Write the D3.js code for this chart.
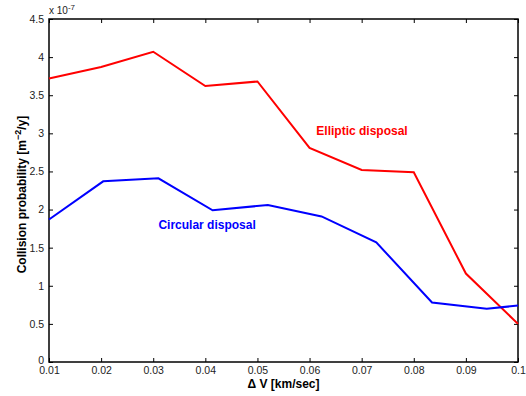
<!DOCTYPE html>
<html>
<head>
<meta charset="utf-8">
<script src="https://cdn.jsdelivr.net/npm/d3@7"></script>
<style>
  body { margin: 0; background: #fff; }
  text { font-family: "Liberation Sans", Arial, sans-serif; }
</style>
</head>
<body>
<script>
// data (y values in units of 1e-7)
const ellipticX = [0.01, 0.02, 0.03, 0.04, 0.05, 0.06, 0.07, 0.08, 0.09, 0.1];
const ellipticY = [3.72, 3.87, 4.07, 3.62, 3.68, 2.81, 2.52, 2.49, 1.16, 0.50];
const circularX = [0.01, 0.0204, 0.031, 0.0414, 0.052, 0.0623, 0.0728, 0.0835, 0.094, 0.1];
const circularY = [1.87, 2.37, 2.41, 1.99, 2.06, 1.91, 1.57, 0.78, 0.70, 0.74];
const xTicks = [0.01, 0.02, 0.03, 0.04, 0.05, 0.06, 0.07, 0.08, 0.09, 0.1];
const yTicks = [0, 0.5, 1, 1.5, 2, 2.5, 3, 3.5, 4, 4.5];

const width = 526;
const height = 396;
const plotLeft = 49, plotRight = 518, plotTop = 19, plotBottom = 362;

const svg = d3.select('body')
  .append('svg')
  .attr('width', width)
  .attr('height', height);

const xScale = d3.scaleLinear().domain([0.01, 0.1]).range([plotLeft, plotRight]);
const yScale = d3.scaleLinear().domain([0, 4.5]).range([plotBottom, plotTop]);

const fmtX = d => (d === 0.1 ? '0.1' : d3.format('.2f')(d));
const fmtY = d => String(d);

// axes (MATLAB style: ticks inward, box)
const xAxis = d3.axisBottom(xScale).tickValues(xTicks).tickSize(-4).tickPadding(5).tickFormat(fmtX);
const yAxis = d3.axisLeft(yScale).tickValues(yTicks).tickSize(-4).tickPadding(5).tickFormat(fmtY);
const xTop = d3.axisTop(xScale).tickValues(xTicks).tickSize(-4).tickFormat('');
const yRight = d3.axisRight(yScale).tickValues(yTicks).tickSize(-4).tickFormat('');

function styleAxis(g) {
  g.selectAll('path').remove();
  g.selectAll('line').attr('stroke', '#000');
  g.selectAll('text').attr('fill', '#222').attr('font-size', 10.5);
}

svg.append('g').attr('transform', `translate(0,${plotBottom})`).call(xAxis).call(styleAxis);
const gy = svg.append('g').attr('transform', `translate(${plotLeft},0)`).call(yAxis).call(styleAxis);
// lift the "0" label a little so it clears "0.01"
gy.selectAll('.tick').filter(d => d === 0).select('text').attr('dy', '0.1em');
svg.append('g').attr('transform', `translate(0,${plotTop})`).call(xTop).call(styleAxis);
svg.append('g').attr('transform', `translate(${plotRight},0)`).call(yRight).call(styleAxis);

svg.append('rect')
  .attr('x', plotLeft).attr('y', plotTop)
  .attr('width', plotRight - plotLeft).attr('height', plotBottom - plotTop)
  .attr('fill', 'none').attr('stroke', '#000').attr('stroke-width', 1.5);

// lines
const line = d3.line().x(d => xScale(d[0])).y(d => yScale(d[1]));

svg.append('path')
  .datum(ellipticX.map((x, i) => [x, ellipticY[i]]))
  .attr('d', line)
  .attr('fill', 'none').attr('stroke', '#ff0000').attr('stroke-width', 2);

svg.append('path')
  .datum(circularX.map((x, i) => [x, circularY[i]]))
  .attr('d', line)
  .attr('fill', 'none').attr('stroke', '#0000ff').attr('stroke-width', 2);

// annotations
svg.append('text')
  .attr('x', xScale(0.0613)).attr('y', yScale(2.98))
  .attr('font-size', 12).attr('font-weight', 'bold').attr('fill', '#ff0000')
  .text('Elliptic disposal');

svg.append('text')
  .attr('x', xScale(0.0310)).attr('y', yScale(1.74))
  .attr('font-size', 12).attr('font-weight', 'bold').attr('fill', '#0000ff')
  .text('Circular disposal');

// exponent label
const expo = svg.append('text')
  .attr('x', plotLeft).attr('y', 14)
  .attr('font-size', 10).attr('fill', '#222');
expo.append('tspan').text('x 10');
expo.append('tspan').attr('dy', -4).attr('font-size', 8).text('-7');

// axis titles
svg.append('text')
  .attr('x', (plotLeft + plotRight) / 2).attr('y', 388)
  .attr('text-anchor', 'middle')
  .attr('font-size', 12).attr('font-weight', 'bold')
  .text('\u0394 V [km/sec]');

const yt = svg.append('text')
  .attr('transform', `translate(26,${(plotTop + plotBottom) / 2 + 4}) rotate(-90)`)
  .attr('text-anchor', 'middle')
  .attr('font-size', 12).attr('font-weight', 'bold');
yt.append('tspan').text('Collision probability [m');
yt.append('tspan').attr('dy', -5).attr('font-size', 9).text('\u22122');
yt.append('tspan').attr('dy', 5).text('/y]');
</script>
</body>
</html>
